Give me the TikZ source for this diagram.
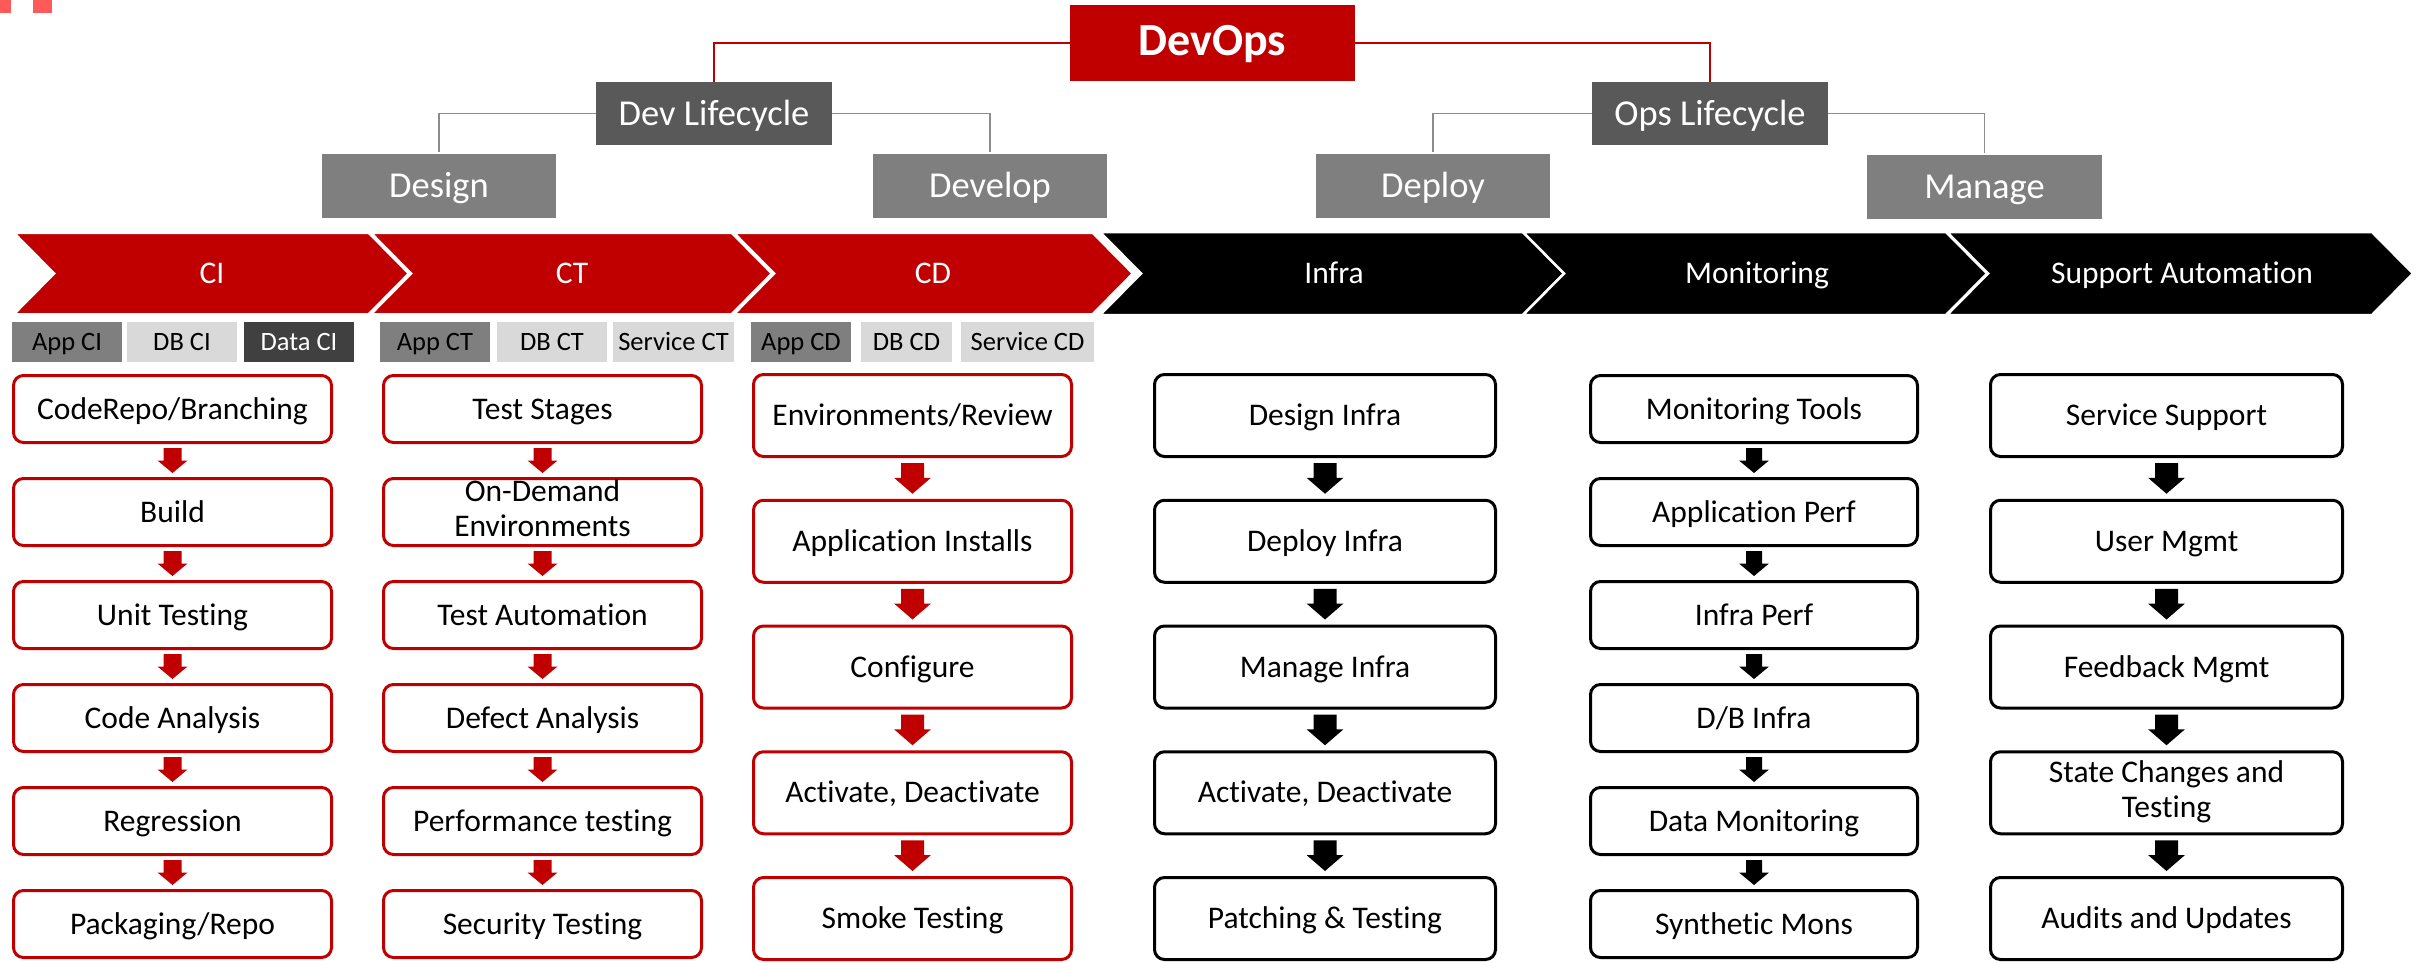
\documentclass[tikz,border=0pt]{standalone}
\usepackage{fontspec}
\setmainfont{Carlito}[Ligatures=NoCommon]
\usetikzlibrary{calc}
\definecolor{dred}{HTML}{C00000}
\definecolor{lcgray}{HTML}{595959}
\definecolor{midgray}{HTML}{7F7F7F}
\definecolor{tablight}{HTML}{D9D9D9}
\definecolor{tabdark}{HTML}{404040}
\definecolor{markred}{HTML}{FF5A5A}
\definecolor{linegray}{HTML}{8C8C8C}
\newcommand\boxstrut{\rule[-8pt]{0pt}{36.3pt}}
\tikzset{
  topbox/.style={inner sep=0pt, text=white, text height=27pt, text depth=3.5pt, font=\fontsize{36.5}{40}\selectfont},
  chevlabel/.style={inner sep=0pt, text=white, text height=23.5pt, text depth=3.2pt, font=\fontsize{31.5}{35}\selectfont},
  tabbox/.style={inner sep=0pt, minimum height=40pt, text height=20pt, text depth=2.9pt, font=\fontsize{26.5}{30}\selectfont},
  stepbox/.style={line width=3pt, rounded corners=10pt, fill=white, inner sep=0pt, align=center,
    font=\fontsize{31.5}{35}\selectfont, execute at begin node=\boxstrut, execute at end node=\boxstrut},
  redbox/.style={stepbox, draw=dred},
  blkbox/.style={stepbox, draw=black},
  rowsix/.style={minimum height=67pt},
  rowfive/.style={minimum height=82pt},
  redchev/.style={fill=dred, draw=white, line width=4pt, line join=miter},
  blkchev/.style={fill=black, draw=white, line width=2.5pt, line join=miter},
  redlink/.style={draw=dred, line width=1.5pt},
  graylink/.style={draw=linegray, line width=1.5pt}
}
% #1 from node, #2 to node, #3 colour, #4 half shaft, #5 half head, #6 head length, #7 gap
\newcommand\flowarrow[7]{%
  \fill[#3] let \p1=(#1.south), \p2=(#2.north) in
    ({\x1-#4pt},{\y1-#7pt}) -- ({\x1+#4pt},{\y1-#7pt}) -- ({\x1+#4pt},{\y2+#7pt+#6pt})
    -- ({\x1+#5pt},{\y2+#7pt+#6pt}) -- (\x1,{\y2+#7pt}) -- ({\x1-#5pt},{\y2+#7pt+#6pt})
    -- ({\x1-#4pt},{\y2+#7pt+#6pt}) -- cycle;}
\newcommand\chevshape[3]{%
  \filldraw[#3] (#1,232) -- ({#2-41},232) -- (#2,273.5) -- ({#2-41},315) -- (#1,315) -- ({#1+41},273.5) -- cycle;}
\newcommand\smallred[2]{\flowarrow{#1}{#2}{dred}{9}{15}{12.5}{4}}
\newcommand\smallblk[2]{\flowarrow{#1}{#2}{black}{8}{15}{12.5}{4}}
\newcommand\bigred[2]{\flowarrow{#1}{#2}{dred}{11.5}{18.5}{16}{5}}
\newcommand\bigblk[2]{\flowarrow{#1}{#2}{black}{11.5}{18.5}{16}{5}}
\begin{document}
\begin{tikzpicture}[x=1pt,y=-1pt]
\useasboundingbox (0,0) rectangle (2428,963);
\fill[white] (0,0) rectangle (2428,963);
\fill[markred] (0,0) rectangle (11,13);
\fill[markred] (33,0) rectangle (52,13);

% hierarchy
\node[topbox, fill=dred, minimum width=285pt, minimum height=76pt, text height=30pt, text depth=4.4pt, font=\fontsize{46}{50}\selectfont\bfseries] (devops) at (1212.5,43) {DevOps};
\node[topbox, fill=lcgray, minimum width=236pt, minimum height=63pt] (devlc) at (714,113.5) {Dev Lifecycle};
\node[topbox, fill=lcgray, minimum width=236pt, minimum height=63pt] (opslc) at (1710,113.5) {Ops Lifecycle};
\node[topbox, fill=midgray, minimum width=234pt, minimum height=64pt] (design) at (439,186) {Design};
\node[topbox, fill=midgray, minimum width=234pt, minimum height=64pt] (develop) at (990,186) {Develop};
\node[topbox, fill=midgray, minimum width=234pt, minimum height=64pt] (deploy) at (1433,186) {Deploy};
\node[topbox, fill=midgray, minimum width=235pt, minimum height=64pt] (manage) at (1984.5,187) {Manage};
\draw[redlink] (devops.west) -| (devlc.north);
\draw[redlink] (devops.east) -| (opslc.north);
\draw[graylink] (devlc.west) -| ([yshift=2pt]design.north);
\draw[graylink] (devlc.east) -| ([yshift=2pt]develop.north);
\draw[graylink] (opslc.west) -| ([yshift=2pt]deploy.north);
\draw[graylink] (opslc.east) -| ([yshift=2pt]manage.north);

% chevrons
\chevshape{1100}{1564}{blkchev}
\chevshape{1523}{1987}{blkchev}
\chevshape{1947}{2413}{blkchev}
\chevshape{12}{413}{redchev}
\chevshape{369}{775}{redchev}
\chevshape{732}{1134}{redchev}
\node[chevlabel] (chci) at (212,273.5) {CI};
\node[chevlabel] (chct) at (572,273.5) {CT};
\node[chevlabel] (chcd) at (933,273.5) {CD};
\node[chevlabel] (chin) at (1334,273.5) {Infra};
\node[chevlabel] (chmo) at (1757,273.5) {Monitoring};
\node[chevlabel] (chsu) at (2182,273.5) {Support Automation};

% tabs
\node[tabbox, fill=midgray, minimum width=110pt] (tappci) at (67,342) {App CI};
\node[tabbox, fill=tablight, minimum width=110pt] (tdbci) at (182,342) {DB CI};
\node[tabbox, fill=tabdark, text=white, minimum width=110pt] (tdataci) at (299,342) {Data CI};
\node[tabbox, fill=midgray, minimum width=110pt] (tappct) at (435,342) {App CT};
\node[tabbox, fill=tablight, minimum width=110pt] (tdbct) at (552,342) {DB CT};
\node[tabbox, fill=tablight, minimum width=121pt] (tsrvct) at (673.5,342) {Service CT};
\node[tabbox, fill=midgray, minimum width=100pt] (tappcd) at (801,342) {App CD};
\node[tabbox, fill=tablight, minimum width=91pt] (tdbcd) at (906.5,342) {DB CD};
\node[tabbox, fill=tablight, minimum width=133pt] (tsrvcd) at (1027.5,342) {Service CD};

% CI and CT columns
\begin{scope}[every node/.append style={redbox, rowsix, minimum width=318pt}]
\node (ci1) at (172.5,409) {CodeRepo/Branching};
\node (ci2) at (172.5,512) {Build};
\node (ci3) at (172.5,615) {Unit Testing};
\node (ci4) at (172.5,718) {Code Analysis};
\node (ci5) at (172.5,821) {Regression};
\node (ci6) at (172.5,924) {Packaging/Repo};
\node (ct1) at (542.5,409) {Test Stages};
\node (ct2) at (542.5,512) {On-Demand\\Environments};
\node (ct3) at (542.5,615) {Test Automation};
\node (ct4) at (542.5,718) {Defect Analysis};
\node (ct5) at (542.5,821) {Performance testing};
\node (ct6) at (542.5,924) {Security Testing};
\end{scope}
\begin{scope}[every node/.append style={redbox, rowfive, minimum width=318pt}]
\node (cd1) at (912.5,415.5) {Environments/Review};
\node (cd2) at (912.5,541.25) {Application Installs};
\node (cd3) at (912.5,667) {Configure};
\node (cd4) at (912.5,792.75) {Activate, Deactivate};
\node (cd5) at (912.5,918.5) {Smoke Testing};
\end{scope}
\begin{scope}[every node/.append style={blkbox, rowfive, minimum width=341pt}]
\node (in1) at (1325,415.5) {Design Infra};
\node (in2) at (1325,541.25) {Deploy Infra};
\node (in3) at (1325,667) {Manage Infra};
\node (in4) at (1325,792.75) {Activate, Deactivate};
\node (in5) at (1325,918.5) {Patching \& Testing};
\end{scope}
\begin{scope}[every node/.append style={blkbox, rowsix, minimum width=327pt}]
\node (mo1) at (1754,409) {Monitoring Tools};
\node (mo2) at (1754,512) {Application Perf};
\node (mo3) at (1754,615) {Infra Perf};
\node (mo4) at (1754,718) {D/B Infra};
\node (mo5) at (1754,821) {Data Monitoring};
\node (mo6) at (1754,924) {Synthetic Mons};
\end{scope}
\begin{scope}[every node/.append style={blkbox, rowfive, minimum width=352pt}]
\node (su1) at (2166.5,415.5) {Service Support};
\node (su2) at (2166.5,541.25) {User Mgmt};
\node (su3) at (2166.5,667) {Feedback Mgmt};
\node (su4) at (2166.5,792.75) {State Changes and\\Testing};
\node (su5) at (2166.5,918.5) {Audits and Updates};
\end{scope}

% arrows
\smallred{ci1}{ci2}\smallred{ci2}{ci3}\smallred{ci3}{ci4}\smallred{ci4}{ci5}\smallred{ci5}{ci6}
\smallred{ct1}{ct2}\smallred{ct2}{ct3}\smallred{ct3}{ct4}\smallred{ct4}{ct5}\smallred{ct5}{ct6}
\bigred{cd1}{cd2}\bigred{cd2}{cd3}\bigred{cd3}{cd4}\bigred{cd4}{cd5}
\bigblk{in1}{in2}\bigblk{in2}{in3}\bigblk{in3}{in4}\bigblk{in4}{in5}
\smallblk{mo1}{mo2}\smallblk{mo2}{mo3}\smallblk{mo3}{mo4}\smallblk{mo4}{mo5}\smallblk{mo5}{mo6}
\bigblk{su1}{su2}\bigblk{su2}{su3}\bigblk{su3}{su4}\bigblk{su4}{su5}
\end{tikzpicture}
\end{document}
